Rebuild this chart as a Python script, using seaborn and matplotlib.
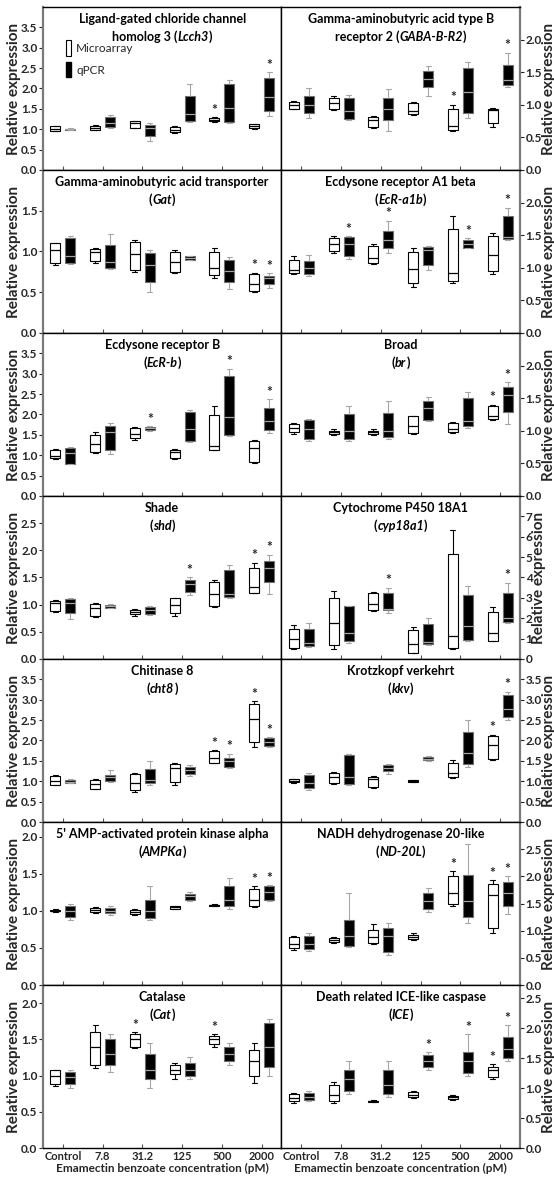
import pandas as pd
import seaborn as sns
import matplotlib.pyplot as plt
from matplotlib.patches import Patch
from matplotlib.ticker import FormatStrFormatter
from matplotlib.offsetbox import TextArea, HPacker, VPacker, AnchoredOffsetbox

conc_labels = ['Control', '7.8', '31.2', '125', '500', '2000']
methods = ['Microarray', 'qPCR']

# every box is written as min, q1, median, q3, max
lcch3_micro = [[0.95, 0.96, 1.0, 1.07, 1.08], [0.97, 0.99, 1.04, 1.09, 1.1], [1.02, 1.04, 1.15, 1.19, 1.2],
               [0.9, 0.93, 0.98, 1.06, 1.08], [1.17, 1.19, 1.23, 1.28, 1.29], [1.0, 1.02, 1.07, 1.12, 1.13]]
lcch3_qpcr = [[0.97, 0.98, 1.0, 1.01, 1.02], [1.04, 1.06, 1.16, 1.3, 1.34], [0.72, 0.84, 1.02, 1.1, 1.15],
              [1.18, 1.2, 1.38, 1.82, 2.12], [1.15, 1.18, 1.52, 2.12, 2.2], [1.32, 1.45, 1.78, 2.25, 2.4]]
lcch3_sig = [(4, 0), (5, 1)]

gaba_micro = [[0.93, 0.94, 1.0, 1.05, 1.06], [0.92, 0.93, 1.02, 1.1, 1.13], [0.64, 0.66, 0.76, 0.82, 0.83],
              [0.85, 0.86, 0.9, 1.03, 1.05], [0.6, 0.61, 0.68, 0.93, 1.0], [0.66, 0.72, 0.92, 0.94, 0.95]]
gaba_qpcr = [[0.79, 0.88, 1.0, 1.13, 1.25], [0.76, 0.78, 0.9, 1.1, 1.15], [0.6, 0.76, 0.94, 1.1, 1.24],
             [1.13, 1.27, 1.39, 1.52, 1.6], [0.8, 0.88, 1.2, 1.57, 1.66], [1.27, 1.31, 1.38, 1.61, 1.8]]
gaba_sig = [(4, 0), (5, 1)]

gat_micro = [[0.83, 0.86, 1.02, 1.1, 1.11], [0.86, 0.88, 0.99, 1.03, 1.04], [0.75, 0.77, 0.97, 1.12, 1.14],
             [0.73, 0.75, 0.87, 0.99, 1.02], [0.68, 0.71, 0.8, 0.99, 1.04], [0.5, 0.51, 0.6, 0.72, 0.74]]
gat_qpcr = [[0.85, 0.86, 0.94, 1.16, 1.19], [0.79, 0.8, 0.87, 1.08, 1.21], [0.5, 0.62, 0.84, 0.98, 1.02],
            [0.89, 0.9, 0.92, 0.94, 0.95], [0.54, 0.62, 0.76, 0.89, 0.93], [0.55, 0.6, 0.68, 0.7, 0.73]]
gat_sig = [(5, 0), (5, 1)]

ecra_micro = [[0.9, 0.92, 0.97, 1.12, 1.18], [1.22, 1.25, 1.37, 1.46, 1.48], [1.06, 1.07, 1.15, 1.34, 1.36],
              [0.7, 0.76, 0.98, 1.24, 1.3], [0.77, 0.8, 0.92, 1.6, 1.8], [0.9, 0.95, 1.2, 1.48, 1.53]]
ecra_qpcr = [[0.88, 0.9, 0.99, 1.1, 1.19], [1.14, 1.18, 1.36, 1.47, 1.48], [1.22, 1.3, 1.43, 1.57, 1.72],
             [0.96, 1.04, 1.27, 1.32, 1.33], [1.3, 1.31, 1.37, 1.43, 1.45], [1.43, 1.44, 1.47, 1.79, 1.92]]
ecra_sig = [(1, 1), (2, 1), (4, 1), (5, 1)]

ecrb_micro = [[0.92, 0.93, 0.97, 1.14, 1.16], [1.05, 1.08, 1.27, 1.5, 1.56], [1.38, 1.42, 1.52, 1.68, 1.7],
              [0.92, 0.94, 1.08, 1.14, 1.16], [1.12, 1.13, 1.22, 1.98, 2.2], [0.8, 0.83, 1.17, 1.35, 1.37]]
ecrb_qpcr = [[0.78, 0.79, 1.05, 1.18, 1.2], [1.02, 1.13, 1.58, 1.71, 1.78], [1.6, 1.61, 1.66, 1.7, 1.72],
             [1.32, 1.34, 1.65, 2.07, 2.1], [1.48, 1.5, 1.95, 2.95, 3.12], [1.55, 1.63, 1.85, 2.17, 2.38]]
ecrb_sig = [(2, 1), (4, 1), (5, 1)]

br_micro = [[0.95, 0.98, 1.05, 1.1, 1.12], [0.93, 0.95, 0.98, 1.0, 1.02], [0.93, 0.95, 0.98, 1.0, 1.02],
            [0.95, 0.97, 1.07, 1.22, 1.23], [0.97, 0.98, 1.03, 1.12, 1.14], [1.17, 1.18, 1.23, 1.38, 1.4]]
br_qpcr = [[0.85, 0.88, 1.02, 1.17, 1.18], [0.85, 0.87, 1.0, 1.25, 1.38], [0.88, 0.9, 1.0, 1.27, 1.45],
           [1.15, 1.17, 1.35, 1.45, 1.52], [1.05, 1.08, 1.15, 1.5, 1.6], [1.1, 1.29, 1.55, 1.67, 1.75]]
br_sig = [(5, 0), (5, 1)]

shd_micro = [[0.87, 0.88, 1.03, 1.07, 1.08], [0.78, 0.8, 0.93, 1.02, 1.03], [0.8, 0.82, 0.87, 0.91, 0.92],
             [0.8, 0.85, 1.0, 1.12, 1.13], [0.95, 0.97, 1.2, 1.42, 1.45], [1.21, 1.22, 1.32, 1.68, 1.77]]
shd_qpcr = [[0.74, 0.85, 1.03, 1.1, 1.12], [0.93, 0.94, 0.97, 1.0, 1.01], [0.81, 0.82, 0.9, 0.96, 0.97],
            [1.17, 1.24, 1.38, 1.45, 1.5], [1.12, 1.14, 1.2, 1.64, 1.73], [1.2, 1.42, 1.68, 1.8, 1.92]]
shd_sig = [(3, 1), (5, 0), (5, 1)]

cyp_micro = [[0.5, 0.55, 0.97, 1.47, 1.67], [0.5, 0.7, 1.76, 3.0, 3.32], [2.37, 2.4, 2.72, 3.25, 3.3],
             [0.28, 0.3, 0.72, 1.42, 1.58], [0.48, 0.52, 1.15, 5.15, 6.35], [0.88, 0.9, 1.3, 2.3, 2.55]]
cyp_qpcr = [[0.6, 0.62, 0.8, 1.48, 1.75], [0.8, 0.9, 1.3, 2.6, 2.62], [2.25, 2.4, 2.45, 3.25, 3.5],
            [0.7, 0.72, 0.82, 1.7, 2.0], [0.9, 0.92, 1.62, 3.15, 3.58], [1.78, 1.8, 2.0, 3.25, 3.75]]
cyp_sig = [(2, 1), (5, 1)]

cht_micro = [[0.9, 0.91, 1.0, 1.13, 1.16], [0.8, 0.82, 0.93, 1.04, 1.05], [0.73, 0.78, 0.95, 1.17, 1.2],
             [0.9, 0.98, 1.33, 1.43, 1.44], [1.44, 1.45, 1.58, 1.74, 1.76], [1.83, 1.96, 2.52, 2.9, 2.97]]
cht_qpcr = [[0.95, 0.96, 0.99, 1.03, 1.06], [0.98, 1.0, 1.1, 1.15, 1.27], [0.92, 0.95, 1.02, 1.3, 1.5],
            [1.13, 1.17, 1.27, 1.35, 1.4], [1.33, 1.35, 1.5, 1.58, 1.68], [1.85, 1.87, 1.97, 2.05, 2.08]]
cht_sig = [(4, 0), (4, 1), (5, 0), (5, 1)]

kkv_micro = [[0.96, 0.97, 1.0, 1.05, 1.06], [0.94, 0.95, 1.1, 1.21, 1.22], [0.83, 0.86, 1.05, 1.1, 1.12],
             [0.97, 0.98, 1.0, 1.02, 1.03], [1.08, 1.1, 1.2, 1.45, 1.52], [1.52, 1.55, 1.88, 2.12, 2.14]]
kkv_qpcr = [[0.78, 0.84, 0.96, 1.16, 1.2], [0.92, 0.93, 1.1, 1.65, 1.68], [1.18, 1.25, 1.33, 1.41, 1.43],
            [1.5, 1.51, 1.55, 1.6, 1.61], [1.35, 1.43, 1.7, 2.2, 2.5], [2.5, 2.58, 2.78, 3.12, 3.2]]
kkv_sig = [(5, 0), (5, 1)]

ampk_micro = [[0.99, 1.0, 1.0, 1.01, 1.02], [0.97, 0.98, 1.01, 1.04, 1.05], [0.95, 0.96, 0.98, 1.01, 1.02],
              [1.02, 1.03, 1.05, 1.07, 1.07], [1.06, 1.07, 1.08, 1.08, 1.09], [1.05, 1.07, 1.15, 1.3, 1.33]]
ampk_qpcr = [[0.88, 0.92, 1.0, 1.07, 1.1], [0.95, 0.97, 1.0, 1.04, 1.07], [0.88, 0.9, 1.0, 1.15, 1.33],
             [1.13, 1.15, 1.2, 1.23, 1.25], [1.03, 1.07, 1.15, 1.33, 1.45], [1.13, 1.15, 1.25, 1.33, 1.35]]
ampk_sig = [(5, 0), (5, 1)]

nd_micro = [[0.65, 0.68, 0.76, 0.88, 0.9], [0.78, 0.8, 0.82, 0.87, 0.88], [0.75, 0.78, 0.88, 1.02, 1.12],
            [0.83, 0.84, 0.88, 0.92, 0.95], [1.45, 1.5, 1.7, 2.0, 2.1], [0.95, 1.05, 1.65, 1.85, 1.93]]
nd_qpcr = [[0.62, 0.66, 0.75, 0.9, 0.95], [0.7, 0.72, 0.9, 1.2, 1.7], [0.55, 0.6, 0.9, 1.05, 1.15],
           [1.35, 1.4, 1.55, 1.7, 1.78], [1.15, 1.25, 1.55, 2.02, 2.6], [1.3, 1.45, 1.7, 1.9, 2.0]]
nd_sig = [(4, 0), (5, 0), (5, 1)]

cat_micro = [[0.85, 0.88, 1.0, 1.07, 1.08], [1.1, 1.15, 1.4, 1.6, 1.7], [1.38, 1.4, 1.5, 1.58, 1.6],
             [0.95, 1.02, 1.08, 1.15, 1.18], [1.4, 1.43, 1.5, 1.55, 1.57], [0.9, 1.0, 1.2, 1.35, 1.45]]
cat_qpcr = [[0.83, 0.88, 0.98, 1.05, 1.08], [1.05, 1.15, 1.3, 1.5, 1.58], [0.83, 0.95, 1.08, 1.3, 1.45],
            [0.95, 1.0, 1.08, 1.18, 1.25], [1.15, 1.2, 1.3, 1.4, 1.45], [1.0, 1.12, 1.4, 1.72, 1.78]]
cat_sig = [(2, 0), (4, 0)]

ice_micro = [[0.75, 0.78, 0.83, 0.9, 0.92], [0.75, 0.78, 0.88, 1.05, 1.1], [0.76, 0.77, 0.78, 0.79, 0.8],
             [0.83, 0.85, 0.88, 0.93, 0.95], [0.8, 0.82, 0.85, 0.87, 0.88], [1.15, 1.18, 1.3, 1.35, 1.4]]
ice_qpcr = [[0.78, 0.8, 0.85, 0.92, 0.95], [0.9, 0.95, 1.15, 1.3, 1.45], [0.85, 0.9, 1.05, 1.3, 1.45],
            [1.3, 1.35, 1.45, 1.55, 1.6], [1.2, 1.25, 1.45, 1.6, 1.9], [1.45, 1.5, 1.65, 1.85, 2.05]]
ice_sig = [(3, 1), (4, 1), (5, 0), (5, 1)]

# (title line 1, text before the gene, gene symbol, micro, qpcr, stars, ymax, top tick, tick step)
panels = [
    ('Ligand-gated chloride channel', 'homolog 3 ', 'Lcch3', lcch3_micro, lcch3_qpcr, lcch3_sig, 4.0, 3.5, 0.5),
    ('Gamma-aminobutyric acid type B', 'receptor 2 ', 'GABA-B-R2', gaba_micro, gaba_qpcr, gaba_sig, 2.5, 2.0, 0.5),
    ('Gamma-aminobutyric acid transporter', '', 'Gat', gat_micro, gat_qpcr, gat_sig, 2.0, 1.5, 0.5),
    ('Ecdysone receptor A1 beta', '', 'EcR-a1b', ecra_micro, ecra_qpcr, ecra_sig, 2.5, 2.0, 0.5),
    ('Ecdysone receptor B', '', 'EcR-b', ecrb_micro, ecrb_qpcr, ecrb_sig, 4.0, 3.5, 0.5),
    ('Broad', '', 'br', br_micro, br_qpcr, br_sig, 2.5, 2.0, 0.5),
    ('Shade', '', 'shd', shd_micro, shd_qpcr, shd_sig, 3.0, 2.5, 0.5),
    ('Cytochrome P450 18A1', '', 'cyp18a1', cyp_micro, cyp_qpcr, cyp_sig, 8.0, 7, 1),
    ('Chitinase 8', '', 'cht8', cht_micro, cht_qpcr, cht_sig, 4.0, 3.5, 0.5),
    ('Krotzkopf verkehrt', '', 'kkv', kkv_micro, kkv_qpcr, kkv_sig, 4.0, 3.5, 0.5),
    ("5' AMP-activated protein kinase alpha", '', 'AMPKa', ampk_micro, ampk_qpcr, ampk_sig, 2.2, 2.0, 0.5),
    ('NADH dehydrogenase 20-like', '', 'ND-20L', nd_micro, nd_qpcr, nd_sig, 3.0, 2.5, 0.5),
    ('Catalase', '', 'Cat', cat_micro, cat_qpcr, cat_sig, 2.25, 2.0, 0.5),
    ('Death related ICE-like caspase', '', 'ICE', ice_micro, ice_qpcr, ice_sig, 2.72, 2.5, 0.5),
]

sns.set_style('ticks')
plt.rcParams['font.family'] = ['Lato', 'DejaVu Sans']
plt.rcParams['font.weight'] = 'bold'

OFFSET = 0.1875


def long_table(micro, qpcr):
    rows = []
    for method, boxes in zip(methods, [micro, qpcr]):
        for conc, box in zip(conc_labels, boxes):
            for v in box:
                rows.append({'conc': conc, 'method': method, 'value': v})
    return pd.DataFrame(rows)


def add_title(ax, line1, prefix, gene):
    tp = dict(fontweight='bold', fontsize=9, color='black')
    first = TextArea(line1, textprops=tp)
    second = HPacker(children=[TextArea(prefix + '(', textprops=tp),
                               TextArea(gene, textprops=dict(tp, fontstyle='italic')),
                               TextArea(')', textprops=tp)],
                     align='baseline', pad=0, sep=0)
    box = VPacker(children=[first, second], align='center', pad=0, sep=4)
    anc = AnchoredOffsetbox(loc='upper center', child=box, frameon=False, pad=0, borderpad=0,
                            bbox_to_anchor=(0.5, 0.965), bbox_transform=ax.transAxes)
    ax.add_artist(anc)


fig, axes = plt.subplots(7, 2, figsize=(5.54, 11.84), dpi=100)
fig.subplots_adjust(left=0.0776, right=0.9386, top=0.9941, bottom=0.0304, hspace=0, wspace=0)

for i, (line1, prefix, gene, micro, qpcr, sig, ymax, ytop, ystep) in enumerate(panels):
    ax = axes[i // 2, i % 2]
    right = i % 2 == 1
    df = long_table(micro, qpcr)
    sns.boxplot(data=df, x='conc', y='value', hue='method', order=conc_labels, hue_order=methods,
                whis=(0, 100), width=0.75, gap=0.33, linewidth=0.8, fliersize=0,
                legend=False, ax=ax)

    # restyle the two series
    styles = [dict(face='white', edge='black', line='black', med='black'),
              dict(face='black', edge='#6e6e6e', line='#a6a6a6', med='#a6a6a6')]
    for cont, st in zip(ax.containers, styles):
        for b in cont.boxes:
            b.set_facecolor(st['face'])
            b.set_edgecolor(st['edge'])
        for ln in list(cont.whiskers) + list(cont.caps):
            ln.set_color(st['line'])
        for ln in cont.medians:
            ln.set_color(st['med'])
            ln.set_linewidth(0.9)

    for g, s in sig:
        top = (micro if s == 0 else qpcr)[g][4]
        ax.annotate('*', xy=(g + (OFFSET if s else -OFFSET), top), xytext=(0, 1),
                    textcoords='offset points', ha='center', va='bottom',
                    fontsize=10, fontweight='bold')

    ax.set_ylim(0, ymax)
    n = int(round(ytop / ystep))
    ax.set_yticks([k * ystep for k in range(n + 1)])
    if ystep == 1:
        ax.yaxis.set_major_formatter(FormatStrFormatter('%d'))
    else:
        ax.yaxis.set_major_formatter(FormatStrFormatter('%.1f'))
    ax.set_xlim(-0.5, 5.5)
    ax.tick_params(axis='x', direction='in', length=3, width=0.8, color='#555555')
    ax.tick_params(axis='y', direction='out', length=3, width=0.8, labelsize=8.5, pad=1)
    for lab in ax.get_yticklabels():
        lab.set_fontweight('bold')
    if right:
        ax.yaxis.tick_right()
        ax.yaxis.set_label_position('right')
    ax.set_ylabel('Relative expression', fontsize=11, fontweight='bold', labelpad=0)

    if i // 2 == 6:
        ax.set_xticks(range(6))
        ax.set_xticklabels(conc_labels, fontsize=8, fontweight='bold')
        ax.tick_params(axis='x', pad=2)
        ax.set_xlabel('Emamectin benzoate concentration (pM)', fontsize=8.5, fontweight='bold', labelpad=1)
    else:
        ax.set_xticklabels([])
        ax.set_xlabel('')

    for side in ['top', 'bottom', 'left', 'right']:
        ax.spines[side].set_visible(True)
        ax.spines[side].set_color('black')
        ax.spines[side].set_linewidth(1.0)
    outer = 'right' if right else 'left'
    ax.spines[outer].set_color('#7a7a7a')
    ax.spines[outer].set_linewidth(1.6)

    add_title(ax, line1, prefix, gene)

    if i == 0:
        handles = [Patch(facecolor='white', edgecolor='black', linewidth=0.8),
                   Patch(facecolor='black', edgecolor='black')]
        leg = ax.legend(handles, methods, loc='upper left', bbox_to_anchor=(0.05, 0.86),
                        frameon=False, handlelength=0.5, handleheight=1.6, handletextpad=0.4,
                        labelspacing=0.55, prop={'size': 8.5, 'weight': 'normal'})

fig.savefig('out.png', dpi=100)
